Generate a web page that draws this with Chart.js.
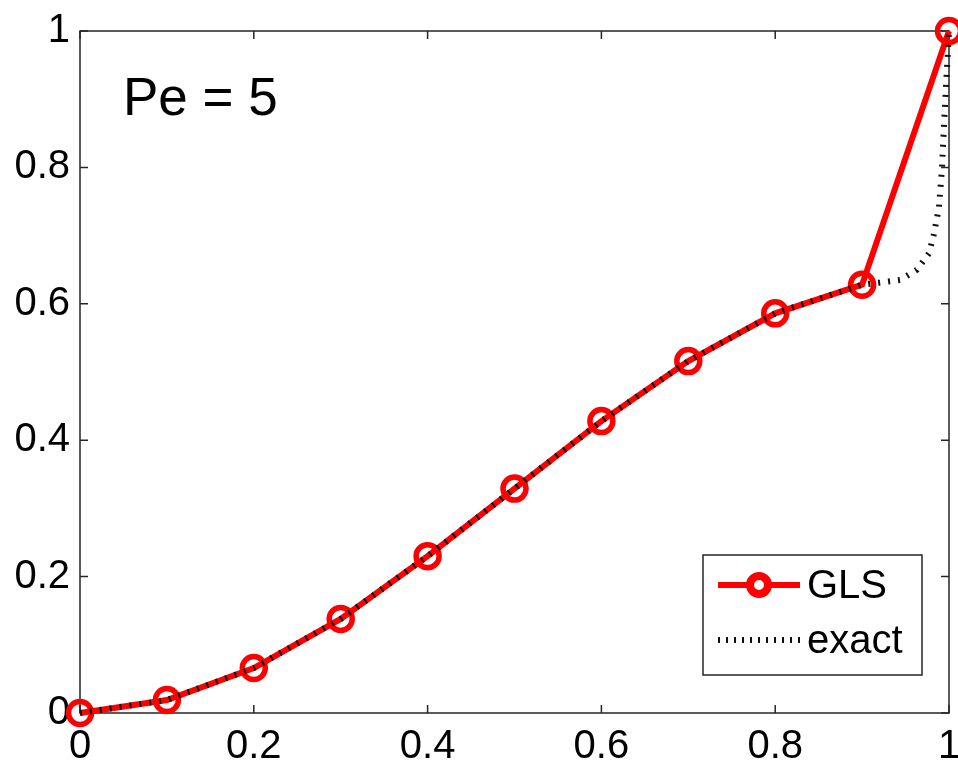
<!DOCTYPE html>
<html><head><meta charset="utf-8">
<script src="https://cdn.jsdelivr.net/npm/chart.js@4/dist/chart.umd.min.js"></script>
<style>html,body{margin:0;padding:0;background:#fff}</style>
</head><body>
<canvas id="c" width="958" height="767"></canvas>
<script>
// ---- data ----
const nodeX = [0, 0.1, 0.2, 0.3, 0.4, 0.5, 0.6, 0.7, 0.8, 0.9, 1];
const glsY  = [0, 0.019, 0.066, 0.138, 0.230, 0.329, 0.428, 0.516, 0.586, 0.628, 1];
const exactX = [0, 0.1, 0.2, 0.3, 0.4, 0.5, 0.6, 0.7, 0.8, 0.9, 0.92, 0.944, 0.963, 0.977, 0.983, 0.9885, 0.992, 0.9945, 0.997, 1];
const exactY = [0, 0.019, 0.066, 0.138, 0.230, 0.329, 0.428, 0.516, 0.586, 0.628, 0.631, 0.635, 0.650, 0.674, 0.704, 0.742, 0.800, 0.870, 0.930, 1];
const xTickValues = [0, 0.2, 0.4, 0.6, 0.8, 1];
const yTickValues = [0, 0.2, 0.4, 0.6, 0.8, 1];
const seriesNames = ['GLS', 'exact'];
const annotationText = 'Pe = 5';

const FONT = '"Liberation Sans", Arial, Helvetica, sans-serif';
const toPts = (xs, ys) => xs.map((x, i) => ({x: x, y: ys[i]}));

const framePlugin = {
  id: 'frame',
  beforeDatasetsDraw(chart) {
    const {ctx, chartArea: a, scales} = chart;
    ctx.save();
    ctx.strokeStyle = '#262626';
    ctx.lineWidth = 1.5;
    ctx.strokeRect(a.left, a.top, a.right - a.left, a.bottom - a.top);
    const tl = 8;
    ctx.beginPath();
    scales.x.ticks.forEach(t => {
      const px = scales.x.getPixelForValue(t.value);
      ctx.moveTo(px, a.bottom); ctx.lineTo(px, a.bottom - tl);
      ctx.moveTo(px, a.top); ctx.lineTo(px, a.top + tl);
    });
    scales.y.ticks.forEach(t => {
      const py = scales.y.getPixelForValue(t.value);
      ctx.moveTo(a.left, py); ctx.lineTo(a.left + tl, py);
      ctx.moveTo(a.right, py); ctx.lineTo(a.right - tl, py);
    });
    ctx.stroke();
    ctx.restore();
  },
  afterDraw(chart) {
    const {ctx} = chart;
    ctx.save();
    // annotation
    ctx.fillStyle = '#000';
    ctx.font = '53px ' + FONT;
    ctx.textBaseline = 'alphabetic';
    ctx.textAlign = 'left';
    ctx.fillText(annotationText, 123, 115);
    // legend box
    const bx = 703, by = 555, bw = 219, bh = 120;
    ctx.fillStyle = '#fff';
    ctx.fillRect(bx, by, bw, bh);
    ctx.strokeStyle = '#262626';
    ctx.lineWidth = 1.5;
    ctx.strokeRect(bx, by, bw, bh);
    const ds = chart.data.datasets;
    // GLS sample
    const y1 = 585;
    ctx.strokeStyle = ds[0].borderColor;
    ctx.lineWidth = 6;
    ctx.beginPath(); ctx.moveTo(718, y1); ctx.lineTo(800, y1); ctx.stroke();
    ctx.beginPath(); ctx.arc(759, y1, 9, 0, Math.PI * 2);
    ctx.fillStyle = '#fff'; ctx.fill(); ctx.lineWidth = 8; ctx.stroke();
    // exact sample
    const y2 = 640;
    ctx.strokeStyle = ds[1].borderColor;
    ctx.lineWidth = 6;
    ctx.setLineDash([2, 6]);
    ctx.beginPath(); ctx.moveTo(718, y2); ctx.lineTo(800, y2); ctx.stroke();
    ctx.setLineDash([]);
    ctx.fillStyle = '#000';
    ctx.font = '40px ' + FONT;
    ctx.textBaseline = 'middle';
    ctx.fillText(ds[0].label, 807, y1 + 2);
    ctx.fillText(ds[1].label, 807, y2 + 2);
    ctx.restore();
  }
};

new Chart(document.getElementById('c'), {
  type: 'line',
  data: {
    datasets: [
      {
        label: seriesNames[0],
        data: toPts(nodeX, glsY),
        borderColor: '#ff0000',
        backgroundColor: '#ff0000',
        borderWidth: 6,
        pointRadius: 11.5,
        pointBorderWidth: 5.5,
        pointBackgroundColor: 'rgba(0,0,0,0)',
        pointBorderColor: '#ff0000',
        pointHoverRadius: 11.5,
        tension: 0,
        clip: false,
        order: 1
      },
      {
        label: seriesNames[1],
        data: toPts(exactX, exactY),
        borderColor: '#111111',
        borderWidth: 6,
        borderDash: [2, 8],
        borderCapStyle: 'butt',
        pointRadius: 0,
        tension: 0,
        clip: false,
        order: 0
      }
    ]
  },
  options: {
    responsive: false,
    devicePixelRatio: 1,
    animation: false,
    layout: {autoPadding: false, padding: {top: 31, right: 9, left: 0, bottom: 0}},
    plugins: {legend: {display: false}, tooltip: {enabled: false}},
    scales: {
      x: {
        type: 'linear', min: 0, max: 1,
        grid: {display: false}, border: {display: false},
        afterBuildTicks: s => { s.ticks = xTickValues.map(v => ({value: v})); },
        ticks: {color: '#000', font: {family: FONT, size: 40}, padding: 2, maxRotation: 0,
                callback: v => String(v)},
        afterFit: s => { s.height = 54; s.paddingLeft = 0; s.paddingRight = 0; }
      },
      y: {
        type: 'linear', min: 0, max: 1,
        grid: {display: false}, border: {display: false},
        afterBuildTicks: s => { s.ticks = yTickValues.map(v => ({value: v})); },
        ticks: {color: '#000', font: {family: FONT, size: 40}, padding: 2,
                callback: v => String(v)},
        afterFit: s => { s.width = 80; s.paddingTop = 0; s.paddingBottom = 0; }
      }
    }
  },
  plugins: [framePlugin]
});
</script>
</body></html>
